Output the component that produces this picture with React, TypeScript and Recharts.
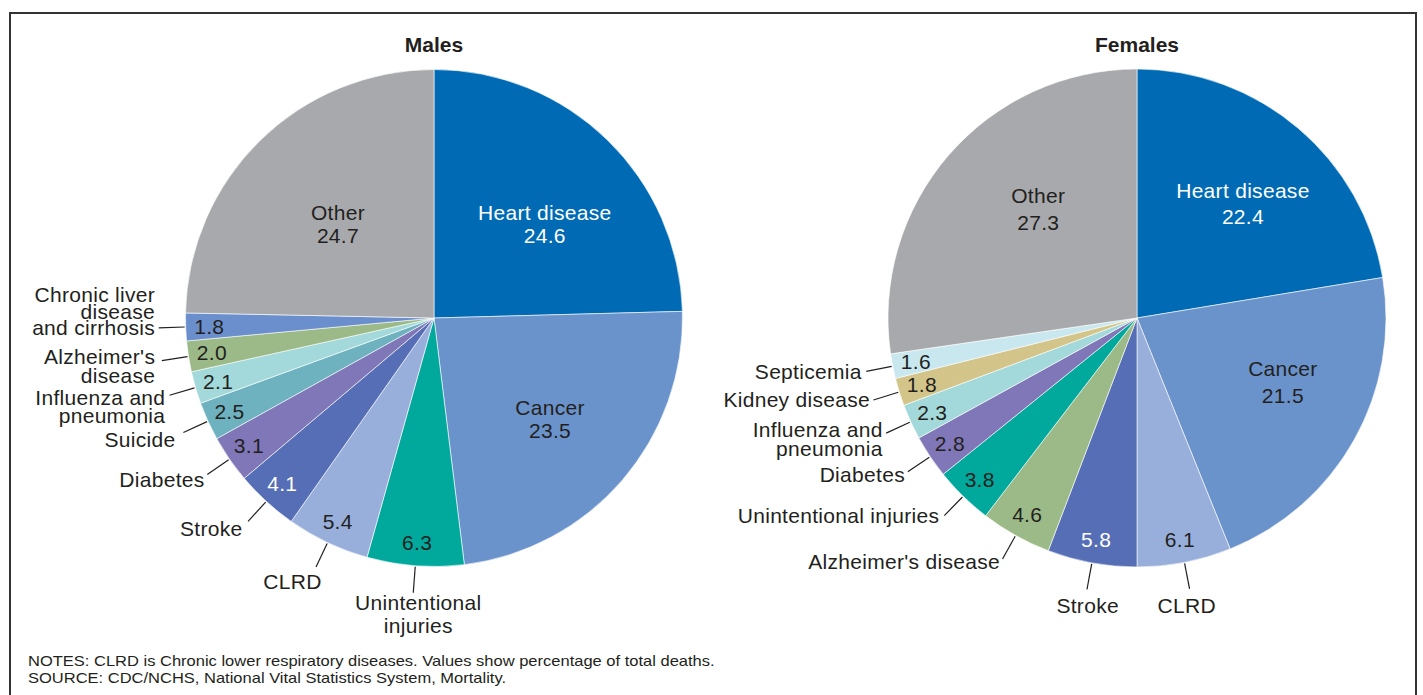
import React from 'react';
import { PieChart, Pie, Cell } from 'recharts';

// percentage of total deaths, clockwise from 12 o'clock
const maleCauses = ['Heart disease', 'Cancer', 'Unintentional injuries', 'CLRD', 'Stroke', 'Diabetes', 'Suicide', 'Influenza and pneumonia', "Alzheimer's disease", 'Chronic liver disease and cirrhosis', 'Other'];
const maleValues = [24.6, 23.5, 6.3, 5.4, 4.1, 3.1, 2.5, 2.1, 2.0, 1.8, 24.7];

const femaleCauses = ['Heart disease', 'Cancer', 'CLRD', 'Stroke', "Alzheimer's disease", 'Unintentional injuries', 'Diabetes', 'Influenza and pneumonia', 'Kidney disease', 'Septicemia', 'Other'];
const femaleValues = [22.4, 21.5, 6.1, 5.8, 4.6, 3.8, 2.8, 2.3, 1.8, 1.6, 27.3];

const notes = [
  'NOTES: CLRD is Chronic lower respiratory diseases. Values show percentage of total deaths.',
  'SOURCE: CDC/NCHS, National Vital Statistics System, Mortality.',
];

const COLORS: Record<string, string> = {
  'Heart disease': '#006bb4',
  'Cancer': '#6a93cb',
  'Unintentional injuries': '#00a99c',
  'CLRD': '#97afda',
  'Stroke': '#556eb5',
  'Diabetes': '#7f77b7',
  'Suicide': '#6db2be',
  'Influenza and pneumonia': '#a3d9da',
  "Alzheimer's disease": '#9bba87',
  'Chronic liver disease and cirrhosis': '#6b8fcd',
  'Kidney disease': '#d3c58a',
  'Septicemia': '#c9e7ee',
  'Other': '#a7a9ac',
};

const INK = '#231f20';
const FONT = '"Liberation Sans", Arial, sans-serif';
const RAD = Math.PI / 180;

// label placement: 'in' = name + value inside the slice, otherwise value inside and name outside with a leader line
type Layout = {
  in?: { r: number; shift: number; lh: number };
  lines?: string[];
  anchor?: 'end' | 'middle';
  dx?: number;
  dy?: number;
  lh?: number;
  white?: boolean;
};

const maleLayout: Record<string, Layout> = {
  'Heart disease': { in: { r: 0.585, shift: 5.4, lh: 23 }, white: true },
  'Cancer': { in: { r: 0.62, shift: 0.4, lh: 23 } },
  'Other': { in: { r: 0.54, shift: -1.3, lh: 23 } },
  'Unintentional injuries': { lines: ['Unintentional', 'injuries'], anchor: 'middle', dx: 5, dy: 10, lh: 22.5 },
  'CLRD': { lines: ['CLRD'], anchor: 'end', dx: 5.6, dy: 15 },
  'Stroke': { lines: ['Stroke'], anchor: 'end', dx: -5.6, dy: 6.7, white: true },
  'Diabetes': { lines: ['Diabetes'], anchor: 'end', dx: -2.6, dy: 5.4 },
  'Suicide': { lines: ['Suicide'], anchor: 'end', dx: -8, dy: 6.9 },
  'Influenza and pneumonia': { lines: ['Influenza and', 'pneumonia'], anchor: 'end', dx: -4.2, dy: 11, lh: 18.3 },
  "Alzheimer's disease": { lines: ["Alzheimer's", 'disease'], anchor: 'end', dx: -6.6, dy: 5, lh: 19 },
  'Chronic liver disease and cirrhosis': { lines: ['Chronic liver', 'disease', 'and cirrhosis'], anchor: 'end', dx: -3.6, dy: -16.7, lh: 16.7 },
};

const femaleLayout: Record<string, Layout> = {
  'Heart disease': { in: { r: 0.627, shift: 2.4, lh: 26.5 }, white: true },
  'Cancer': { in: { r: 0.64, shift: -5.6, lh: 26.5 } },
  'Other': { in: { r: 0.59, shift: 6.9, lh: 26.5 } },
  'CLRD': { lines: ['CLRD'], anchor: 'middle', dx: -2.9, dy: 16.7 },
  'Stroke': { lines: ['Stroke'], anchor: 'middle', dx: 0.7, dy: 16.3, white: true },
  "Alzheimer's disease": { lines: ["Alzheimer's disease"], anchor: 'end', dx: -2.5, dy: 2.7 },
  'Unintentional injuries': { lines: ['Unintentional injuries'], anchor: 'end', dx: -5, dy: 0.1 },
  'Diabetes': { lines: ['Diabetes'], anchor: 'end', dx: -2.8, dy: 3.3 },
  'Influenza and pneumonia': { lines: ['Influenza and', 'pneumonia'], anchor: 'end', dx: -3.5, dy: 5.5, lh: 19.3 },
  'Kidney disease': { lines: ['Kidney disease'], anchor: 'end', dx: -3.4, dy: 0 },
  'Septicemia': { lines: ['Septicemia'], anchor: 'end', dx: -4.5, dy: -0.4 },
};

const toData = (causes: string[], values: number[]) => causes.map((cause, i) => ({ cause, value: values[i] }));
const maleData = toData(maleCauses, maleValues);
const femaleData = toData(femaleCauses, femaleValues);

const textStyle = { fontFamily: FONT, fontSize: 21, letterSpacing: 0.3 };

const makeLabel = (layout: Record<string, Layout>) => (p: any) => {
  const { cx, cy, midAngle, outerRadius, value } = p;
  const cause = p.payload?.cause ?? p.name;
  const L = layout[cause];
  if (!L) return null;
  const pt = (r: number, a: number) => [cx + r * Math.cos(-a * RAD), cy + r * Math.sin(-a * RAD)];
  const color = L.white ? '#ffffff' : INK;
  const val = Number(value).toFixed(1);

  if (L.in) {
    const [x, y] = pt(outerRadius * L.in.r, midAngle - L.in.shift);
    return (
      <g>
        <text x={x} y={y - L.in.lh / 2} textAnchor="middle" dominantBaseline="central" fill={color} style={textStyle}>{cause}</text>
        <text x={x} y={y + L.in.lh / 2} textAnchor="middle" dominantBaseline="central" fill={color} style={textStyle}>{val}</text>
      </g>
    );
  }

  const [vx, vy] = pt(outerRadius * 0.905, midAngle);
  const [sx, sy] = pt(outerRadius + 1, midAngle);
  const [ex, ey] = pt(outerRadius + 27, midAngle);
  const lines = L.lines ?? [cause];
  const lh = L.lh ?? 20;
  const tx = ex + (L.dx ?? 0);
  let ty = ey + (L.dy ?? 0);
  if (L.anchor === 'end') ty -= ((lines.length - 1) * lh) / 2;
  return (
    <g>
      <text x={vx} y={vy} textAnchor="middle" dominantBaseline="central" fill={color} style={textStyle}>{val}</text>
      <line x1={sx} y1={sy} x2={ex} y2={ey} stroke={INK} strokeWidth={1.2} />
      {lines.map((ln, i) => (
        <text key={i} x={tx} y={ty + i * lh} textAnchor={L.anchor ?? 'end'} dominantBaseline="central" fill={INK} style={textStyle}>{ln}</text>
      ))}
    </g>
  );
};

const Title = ({ x, text }: { x: number; text: string }) => (
  <div style={{ position: 'absolute', left: x - 100, top: 33, width: 200, textAlign: 'center', fontFamily: FONT, fontWeight: 'bold', fontSize: 21, lineHeight: '24px', color: INK }}>
    {text}
  </div>
);

export default function App() {
  return (
    <div style={{ position: 'fixed', left: 0, top: 0, width: 1423, height: 695, overflow: 'hidden', background: '#fff' }}>
      <div style={{ position: 'absolute', left: 9, top: 12, width: 1408, height: 720, border: '2px solid #333', boxSizing: 'border-box' }} />
      <div style={{ position: 'absolute', left: 0, top: 0 }}>
        <PieChart width={1423} height={695} margin={{ top: 0, right: 0, bottom: 0, left: 0 }}>
          <Pie data={maleData} dataKey="value" nameKey="cause" cx={434} cy={318} outerRadius={248.5} startAngle={90} endAngle={-270}
            stroke="#ffffff" strokeWidth={0.6} isAnimationActive={false} labelLine={false} label={makeLabel(maleLayout)}>
            {maleData.map(d => <Cell key={d.cause} fill={COLORS[d.cause]} />)}
          </Pie>
          <Pie data={femaleData} dataKey="value" nameKey="cause" cx={1137} cy={318} outerRadius={249} startAngle={90} endAngle={-270}
            stroke="#ffffff" strokeWidth={0.6} isAnimationActive={false} labelLine={false} label={makeLabel(femaleLayout)}>
            {femaleData.map(d => <Cell key={d.cause} fill={COLORS[d.cause]} />)}
          </Pie>
        </PieChart>
      </div>
      <Title x={434} text="Males" />
      <Title x={1137} text="Females" />
      <div style={{ position: 'absolute', left: 28, top: 652, fontFamily: FONT, fontSize: 15, lineHeight: '17px', color: INK, transform: 'scaleX(1.1)', transformOrigin: 'left top', whiteSpace: 'nowrap' }}>
        {notes.map(n => <div key={n}>{n}</div>)}
      </div>
    </div>
  );
}
